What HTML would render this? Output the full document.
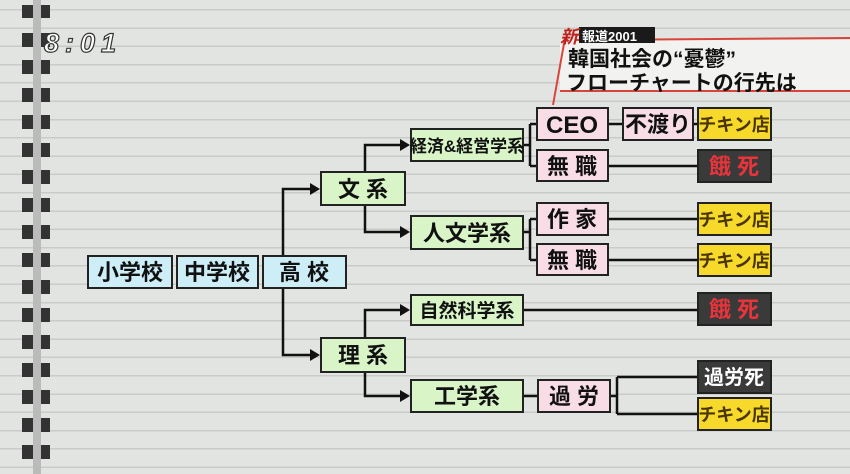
<!DOCTYPE html>
<html><head><meta charset="utf-8"><style>
html,body{margin:0;padding:0}
body{width:850px;height:474px;overflow:hidden;position:relative;background-color:#e2e4e1;
background-image:repeating-linear-gradient(to bottom,transparent 0,transparent 9px,#c9cbc8 9px,#c9cbc8 10.5px,transparent 10.5px,transparent 18.3px);}
svg{position:absolute;left:0;top:0}
text{font-family:"Liberation Sans","Noto Sans CJK JP",sans-serif;font-weight:bold}
</style></head><body>
<svg width="850" height="474" viewBox="0 0 850 474">
<g fill="#333">
<rect x="22" y="5" width="28" height="13"/><rect x="22" y="33" width="28" height="14"/><rect x="22" y="60" width="28" height="14"/><rect x="22" y="88" width="28" height="14"/><rect x="22" y="115" width="28" height="14"/><rect x="22" y="143" width="28" height="14"/><rect x="22" y="170" width="28" height="14"/><rect x="22" y="198" width="28" height="14"/><rect x="22" y="225" width="28" height="14"/><rect x="22" y="253" width="28" height="14"/><rect x="22" y="280" width="28" height="14"/><rect x="22" y="308" width="28" height="14"/><rect x="22" y="335" width="28" height="14"/><rect x="22" y="363" width="28" height="14"/><rect x="22" y="390" width="28" height="14"/><rect x="22" y="418" width="28" height="14"/><rect x="22" y="445" width="28" height="14"/>
</g>
<g fill="#bbb"><rect x="33" y="0" width="8" height="474"/></g>
<text x="44" y="52" font-size="27" font-style="italic" font-weight="normal" fill="#fff" stroke="#333" stroke-width="1.2" letter-spacing="6">8:01</text>

<!-- title -->
<rect x="560" y="40" width="290" height="52" fill="#f2f2f0"/>
<line x1="575" y1="40" x2="850" y2="38" stroke="#d9443a" stroke-width="2"/>
<line x1="560" y1="91" x2="850" y2="91" stroke="#d9443a" stroke-width="2"/>
<line x1="565" y1="38" x2="553" y2="105" stroke="#d9443a" stroke-width="2"/>
<rect x="579" y="27" width="76" height="16" fill="#1a1a1a"/>
<text x="560" y="43" font-size="18" font-style="italic" fill="#c0201a">新</text>
<text x="582" y="41" font-size="13" fill="#fff" font-weight="normal">報道2001</text>
<text x="568" y="66" font-size="21" fill="#111" font-family="Liberation Serif,'Noto Serif CJK SC',serif">韓国社会の“憂鬱”</text>
<text x="566" y="90" font-size="21" fill="#111">フローチャートの行先は</text>

<!-- connectors -->
<g stroke="#111" stroke-width="2.5" fill="none">
<path d="M283 256 V189 H312"/><path d="M283 288 V355 H312"/>
<path d="M365 172 V145 H402"/><path d="M365 205 V232 H402"/>
<path d="M365 338 V310 H402"/><path d="M365 372 V396 H402"/>
<path d="M523 145 H530"/><path d="M530 124 V166"/><path d="M530 124 H537"/><path d="M530 166 H537"/>
<path d="M523 232 H530"/><path d="M530 219 V260"/><path d="M530 219 H537"/><path d="M530 260 H537"/>
<path d="M608 124 H623"/><path d="M693 124 H698"/>
<path d="M608 166 H698"/><path d="M608 219 H698"/><path d="M608 260 H698"/>
<path d="M523 310 H698"/>
<path d="M523 396 H538"/><path d="M610 396 H617"/><path d="M617 377 V414"/><path d="M617 377 H698"/><path d="M617 414 H698"/>
</g>
<g fill="#111">
<path d="M320 189 l-10 -6 v12z"/><path d="M320 355 l-10 -6 v12z"/>
<path d="M410 145 l-10 -6 v12z"/><path d="M410 232 l-10 -6 v12z"/>
<path d="M410 310 l-10 -6 v12z"/><path d="M410 396 l-10 -6 v12z"/>
</g>

<g stroke="#222" stroke-width="2">
<rect x="88" y="256" width="84" height="32" fill="#cdeef7"/>
<rect x="177" y="256" width="81" height="32" fill="#cdeef7"/>
<rect x="263" y="256" width="83" height="32" fill="#cdeef7"/>
<rect x="321" y="172" width="84" height="33" fill="#d9f5c8"/>
<rect x="321" y="338" width="84" height="34" fill="#d9f5c8"/>
<rect x="411" y="129" width="112" height="32" fill="#d9f5c8"/>
<rect x="411" y="216" width="112" height="33" fill="#d9f5c8"/>
<rect x="411" y="295" width="112" height="30" fill="#d9f5c8"/>
<rect x="411" y="380" width="112" height="32" fill="#d9f5c8"/>
<rect x="537" y="108" width="71" height="32" fill="#f8dde6"/>
<rect x="623" y="108" width="70" height="32" fill="#f8dde6"/>
<rect x="537" y="150" width="71" height="31" fill="#f8dde6"/>
<rect x="537" y="203" width="71" height="32" fill="#f8dde6"/>
<rect x="537" y="244" width="71" height="31" fill="#f8dde6"/>
<rect x="538" y="380" width="72" height="32" fill="#f8dde6"/>
<rect x="698" y="108" width="73" height="32" fill="#f6d92a"/>
<rect x="698" y="203" width="73" height="32" fill="#f6d92a"/>
<rect x="698" y="244" width="73" height="32" fill="#f6d92a"/>
<rect x="698" y="398" width="73" height="32" fill="#f6d92a"/>
<rect x="698" y="150" width="73" height="32" fill="#3a3a3a"/>
<rect x="698" y="293" width="73" height="32" fill="#3a3a3a"/>
<rect x="698" y="361" width="73" height="32" fill="#3a3a3a"/>
</g>

<g font-size="22" fill="#111" text-anchor="middle">
<text x="130" y="280">小学校</text>
<text x="217" y="280">中学校</text>
<text x="304" y="280">高 校</text>
<text x="363" y="197">文 系</text>
<text x="363" y="363">理 系</text>
<text x="467" y="152" font-size="17">経済&amp;経営学系</text>
<text x="467" y="241">人文学系</text>
<text x="467" y="317" font-size="19">自然科学系</text>
<text x="467" y="404">工学系</text>
<text x="572" y="133" font-size="24" font-weight="normal">CEO</text>
<text x="658" y="132">不渡り</text>
<text x="572" y="174">無 職</text>
<text x="572" y="227">作 家</text>
<text x="572" y="268">無 職</text>
<text x="574" y="404">過 労</text>
<g font-size="18" fill="#4a3500">
<text x="734" y="131">チキン店</text>
<text x="734" y="226">チキン店</text>
<text x="734" y="267">チキン店</text>
<text x="734" y="421">チキン店</text>
</g>
<text x="734" y="174" fill="#e8343a">餓 死</text>
<text x="734" y="317" fill="#e8343a">餓 死</text>
<text x="734" y="384" font-size="20" fill="#fff">過労死</text>
</g>
</svg>
</body></html>
